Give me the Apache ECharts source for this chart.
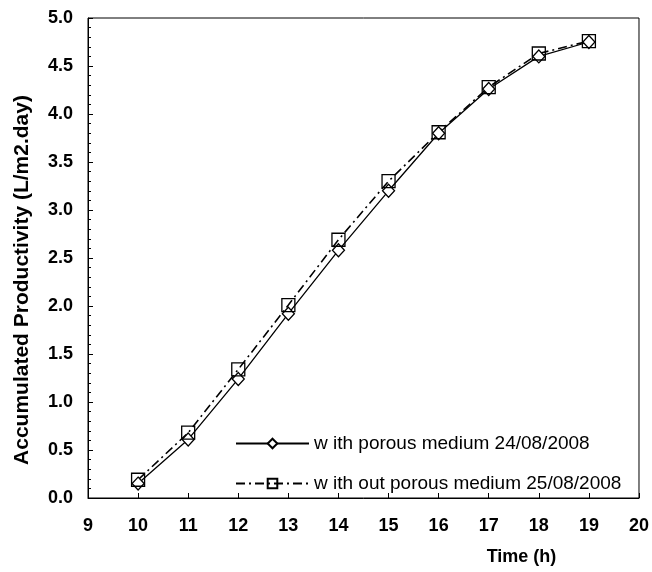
<!DOCTYPE html>
<html><head><meta charset="utf-8">
<script src="https://cdn.jsdelivr.net/npm/echarts@6/dist/echarts.min.js"></script>
<style>html,body{margin:0;padding:0;background:#fff}#c{width:652px;height:572px}</style>
</head><body><div id="c"></div>
<script>
var hours = [10, 11, 12, 13, 14, 15, 16, 17, 18, 19];
var withPorous = [0.15, 0.61, 1.24, 1.92, 2.58, 3.20, 3.80, 4.26, 4.60, 4.75];
var withoutPorous = [0.19, 0.68, 1.34, 2.01, 2.69, 3.30, 3.81, 4.28, 4.63, 4.76];
var seriesNames = ['w ith porous medium 24/08/2008', 'w ith out porous medium 25/08/2008'];

function pairs(xs, ys) { return xs.map(function (x, i) { return [x, ys[i]]; }); }

var chart = echarts.init(document.getElementById('c'), null, { renderer: 'canvas' });
var font = 'Arial, "Liberation Sans", sans-serif';
chart.setOption({
  animation: false,
  backgroundColor: '#fff',
  grid: { left: 88, right: 12, top: 18, bottom: 74, show: true, borderColor: '#000', borderWidth: 1 },
  legend: {
    orient: 'vertical', left: 230, top: 429, itemGap: 21, itemWidth: 73, itemHeight: 12,
    textStyle: { fontFamily: font, fontSize: 19, color: '#000' },
    data: seriesNames
  },
  xAxis: {
    type: 'value', min: 9, max: 20, interval: 1,
    name: 'Time (h)', nameLocation: 'middle', nameGap: 50,
    nameTextStyle: { fontFamily: font, fontSize: 18, fontWeight: 'bold', color: '#000', padding: [0, 0, 0, 316] },
    axisLine: { show: true, lineStyle: { color: '#000' } },
    axisTick: { show: true, inside: true, length: 5, lineStyle: { color: '#000' } },
    axisLabel: { fontFamily: font, fontSize: 18, fontWeight: 'bold', color: '#000', margin: 19 },
    splitLine: { show: false }
  },
  yAxis: {
    type: 'value', min: 0, max: 5, interval: 0.5,
    name: 'Accumulated Productivity (L/m2.day)', nameLocation: 'middle', nameGap: 55,
    nameTextStyle: { fontFamily: font, fontSize: 21, fontWeight: 'bold', color: '#000', padding: [0, 44, 0, 0] },
    axisLine: { show: true, lineStyle: { color: '#000' } },
    axisTick: { show: true, inside: true, length: 5, lineStyle: { color: '#000' } },
    minorTick: { show: true, splitNumber: 5, length: 3, lineStyle: { color: '#000' } },
    axisLabel: { fontFamily: font, fontSize: 18, fontWeight: 'bold', color: '#000', margin: 15,
      formatter: function (v) { return v.toFixed(1); } },
    splitLine: { show: false }
  },
  series: [
    {
      name: seriesNames[0], type: 'line', data: pairs(hours, withPorous),
      symbol: 'diamond', symbolSize: [12, 13], showAllSymbol: true,
      lineStyle: { color: '#000', width: 1.3, type: 'solid' },
      itemStyle: { color: '#fff', borderColor: '#000', borderWidth: 1.3 }
    },
    {
      name: seriesNames[1], type: 'line', data: pairs(hours, withoutPorous),
      symbol: 'rect', symbolSize: 13, showAllSymbol: true,
      lineStyle: { color: '#000', width: 1.6, type: [9, 4, 2, 4] },
      itemStyle: { color: 'rgba(255,255,255,0)', borderColor: '#000', borderWidth: 1.3 }
    }
  ]
});
</script></body></html>
